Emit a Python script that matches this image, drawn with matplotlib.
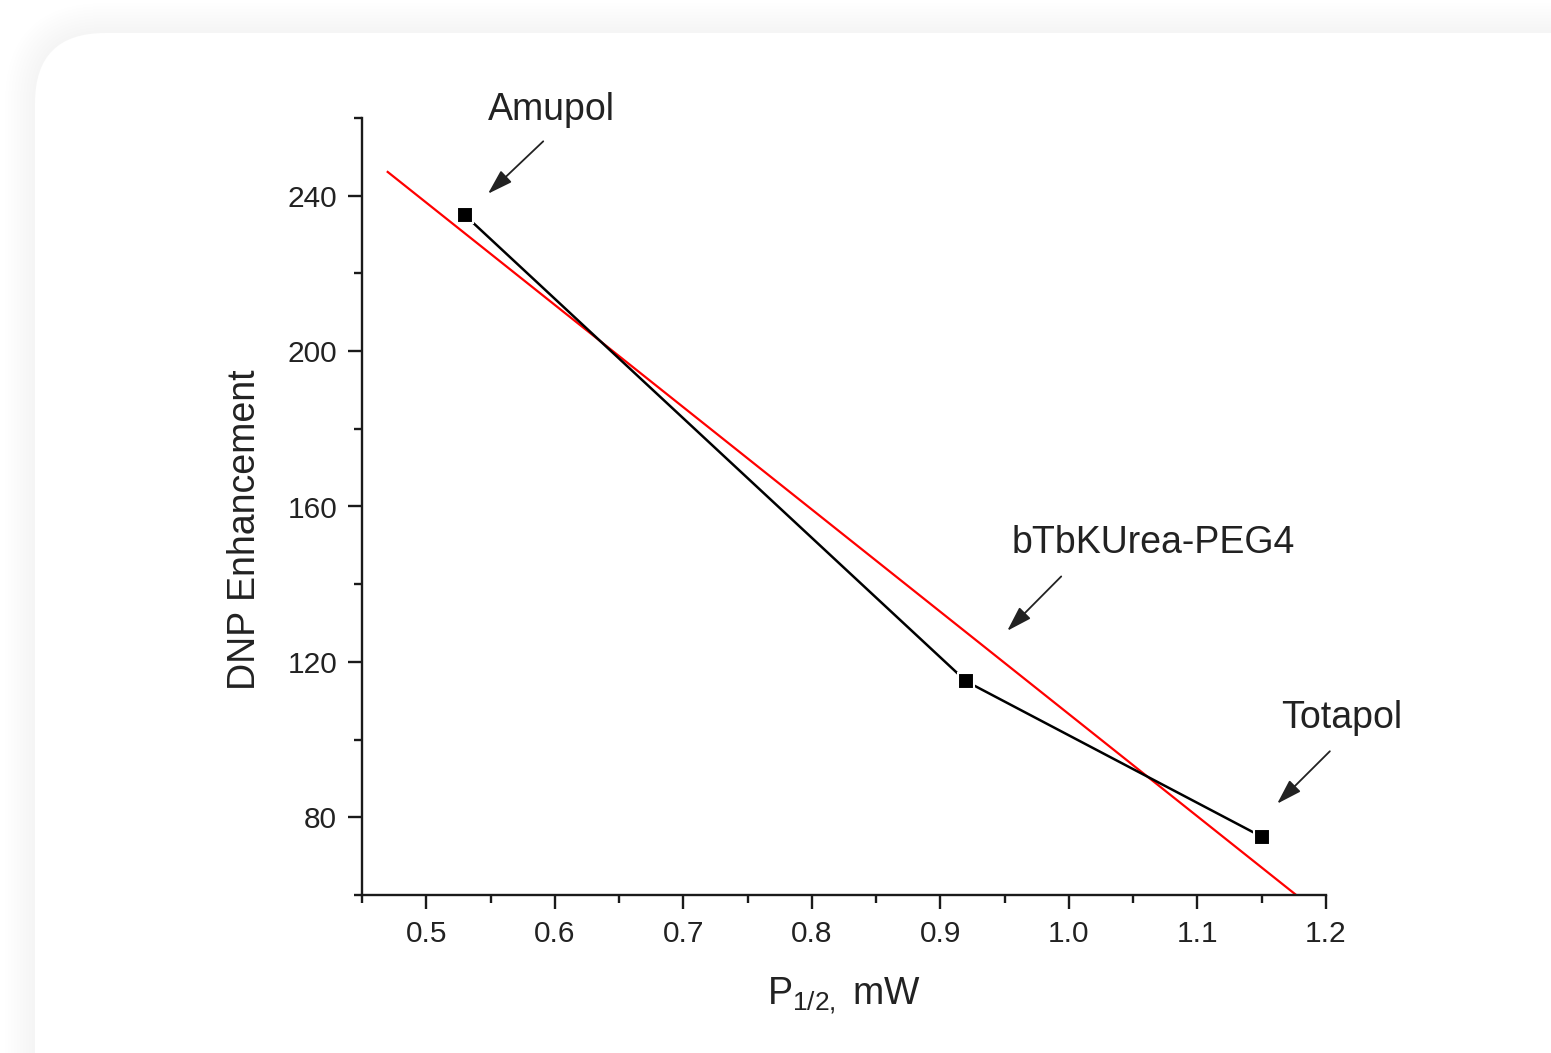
import numpy as np
import matplotlib
matplotlib.use("Agg")
import matplotlib.pyplot as plt
from matplotlib.patches import FancyBboxPatch
from matplotlib.transforms import IdentityTransform
from matplotlib.ticker import MultipleLocator

plt.rcParams['font.family'] = ['Liberation Sans', 'DejaVu Sans']
plt.rcParams['mathtext.fontset'] = 'custom'
plt.rcParams['mathtext.rm'] = 'Liberation Sans'
plt.rcParams['mathtext.it'] = 'Liberation Sans'
plt.rcParams['mathtext.default'] = 'regular'

# radicals: half-saturation power vs DNP enhancement
names = ['Amupol', 'bTbKUrea-PEG4', 'Totapol']
p_half = [0.53, 0.92, 1.15]
enhancement = [235, 115, 75]

# label positions (text, arrow tail, arrow head) in data units
label_xy = [(0.597, 262), (1.066, 150.5), (1.212, 105.5)]
arrow_tail = [(0.591, 254), (0.994, 142), (1.203, 97)]
arrow_head = [(0.548, 240.5), (0.952, 128), (1.162, 83.5)]

# linear fit (red line)
slope, icpt = np.polyfit(p_half, enhancement, 1)
xfit = np.array([0.47, 1.2])
yfit = slope * xfit + icpt

fig = plt.figure(figsize=(15.51, 10.53), dpi=100)
fig.patch.set_facecolor('white')

# soft shadow + white card behind the plot
for i in range(10, 0, -1):
    sh = FancyBboxPatch((35 - 3*i, -200), 2000, 1053 - 33 + 200 + 3*i,
                        boxstyle="round,pad=0,rounding_size=%d" % (70 + 3*i),
                        transform=IdentityTransform(), facecolor='#000000',
                        edgecolor='none', alpha=0.004, zorder=0)
    fig.add_artist(sh)
card = FancyBboxPatch((35, -200), 2000, 1053 - 33 + 200,
                      boxstyle="round,pad=0,rounding_size=70",
                      transform=IdentityTransform(), facecolor='white',
                      edgecolor='none', zorder=0)
fig.add_artist(card)

ax = fig.add_axes([362/1551, 1 - 895/1053, (1326-362)/1551, (895-118)/1053])
ax.set_facecolor('none')

ax.plot(xfit, yfit, color='red', lw=1.6, zorder=2)
ax.plot(p_half, enhancement, color='black', lw=1.8, marker='s', ms=11.5,
        mfc='black', mec='white', mew=1.5, zorder=3)

ax.set_xlim(0.45, 1.2)
ax.set_ylim(60, 260)
ax.xaxis.set_minor_locator(MultipleLocator(0.05))
ax.yaxis.set_minor_locator(MultipleLocator(20))
ax.set_xticks(np.arange(0.5, 1.21, 0.1))
ax.set_xticklabels(['%.1f' % v for v in np.arange(0.5, 1.21, 0.1)])
ax.set_yticks([80, 120, 160, 200, 240])

for s in ['top', 'right']:
    ax.spines[s].set_visible(False)
for s in ['left', 'bottom']:
    ax.spines[s].set_linewidth(1.7)
    ax.spines[s].set_color('#1a1a1a')

ax.tick_params(which='major', direction='out', length=10, width=1.7,
               labelsize=21.5, color='#1a1a1a', labelcolor='#222222', pad=8)
ax.tick_params(which='minor', direction='out', length=5.5, width=1.7, color='#1a1a1a')

ax.set_xlabel(r'P$_{1/2,}$ mW', fontsize=27, color='#222222')
ax.set_ylabel('DNP Enhancement', fontsize=27, color='#222222')
ax.xaxis.set_label_coords(0.5, -0.103)
ax.yaxis.set_label_coords(-0.103, 0.47)

for name, txy, tail, head in zip(names, label_xy, arrow_tail, arrow_head):
    ax.text(txy[0], txy[1], name, fontsize=27, ha='center', va='center',
            color='#222222', clip_on=False)
    ax.annotate('', xy=head, xytext=tail,
                arrowprops=dict(arrowstyle='-|>,head_length=0.7,head_width=0.22',
                                color='#222222', lw=1.3,
                                mutation_scale=22, shrinkA=0, shrinkB=0),
                annotation_clip=False)

fig.savefig('out.png', dpi=100)
